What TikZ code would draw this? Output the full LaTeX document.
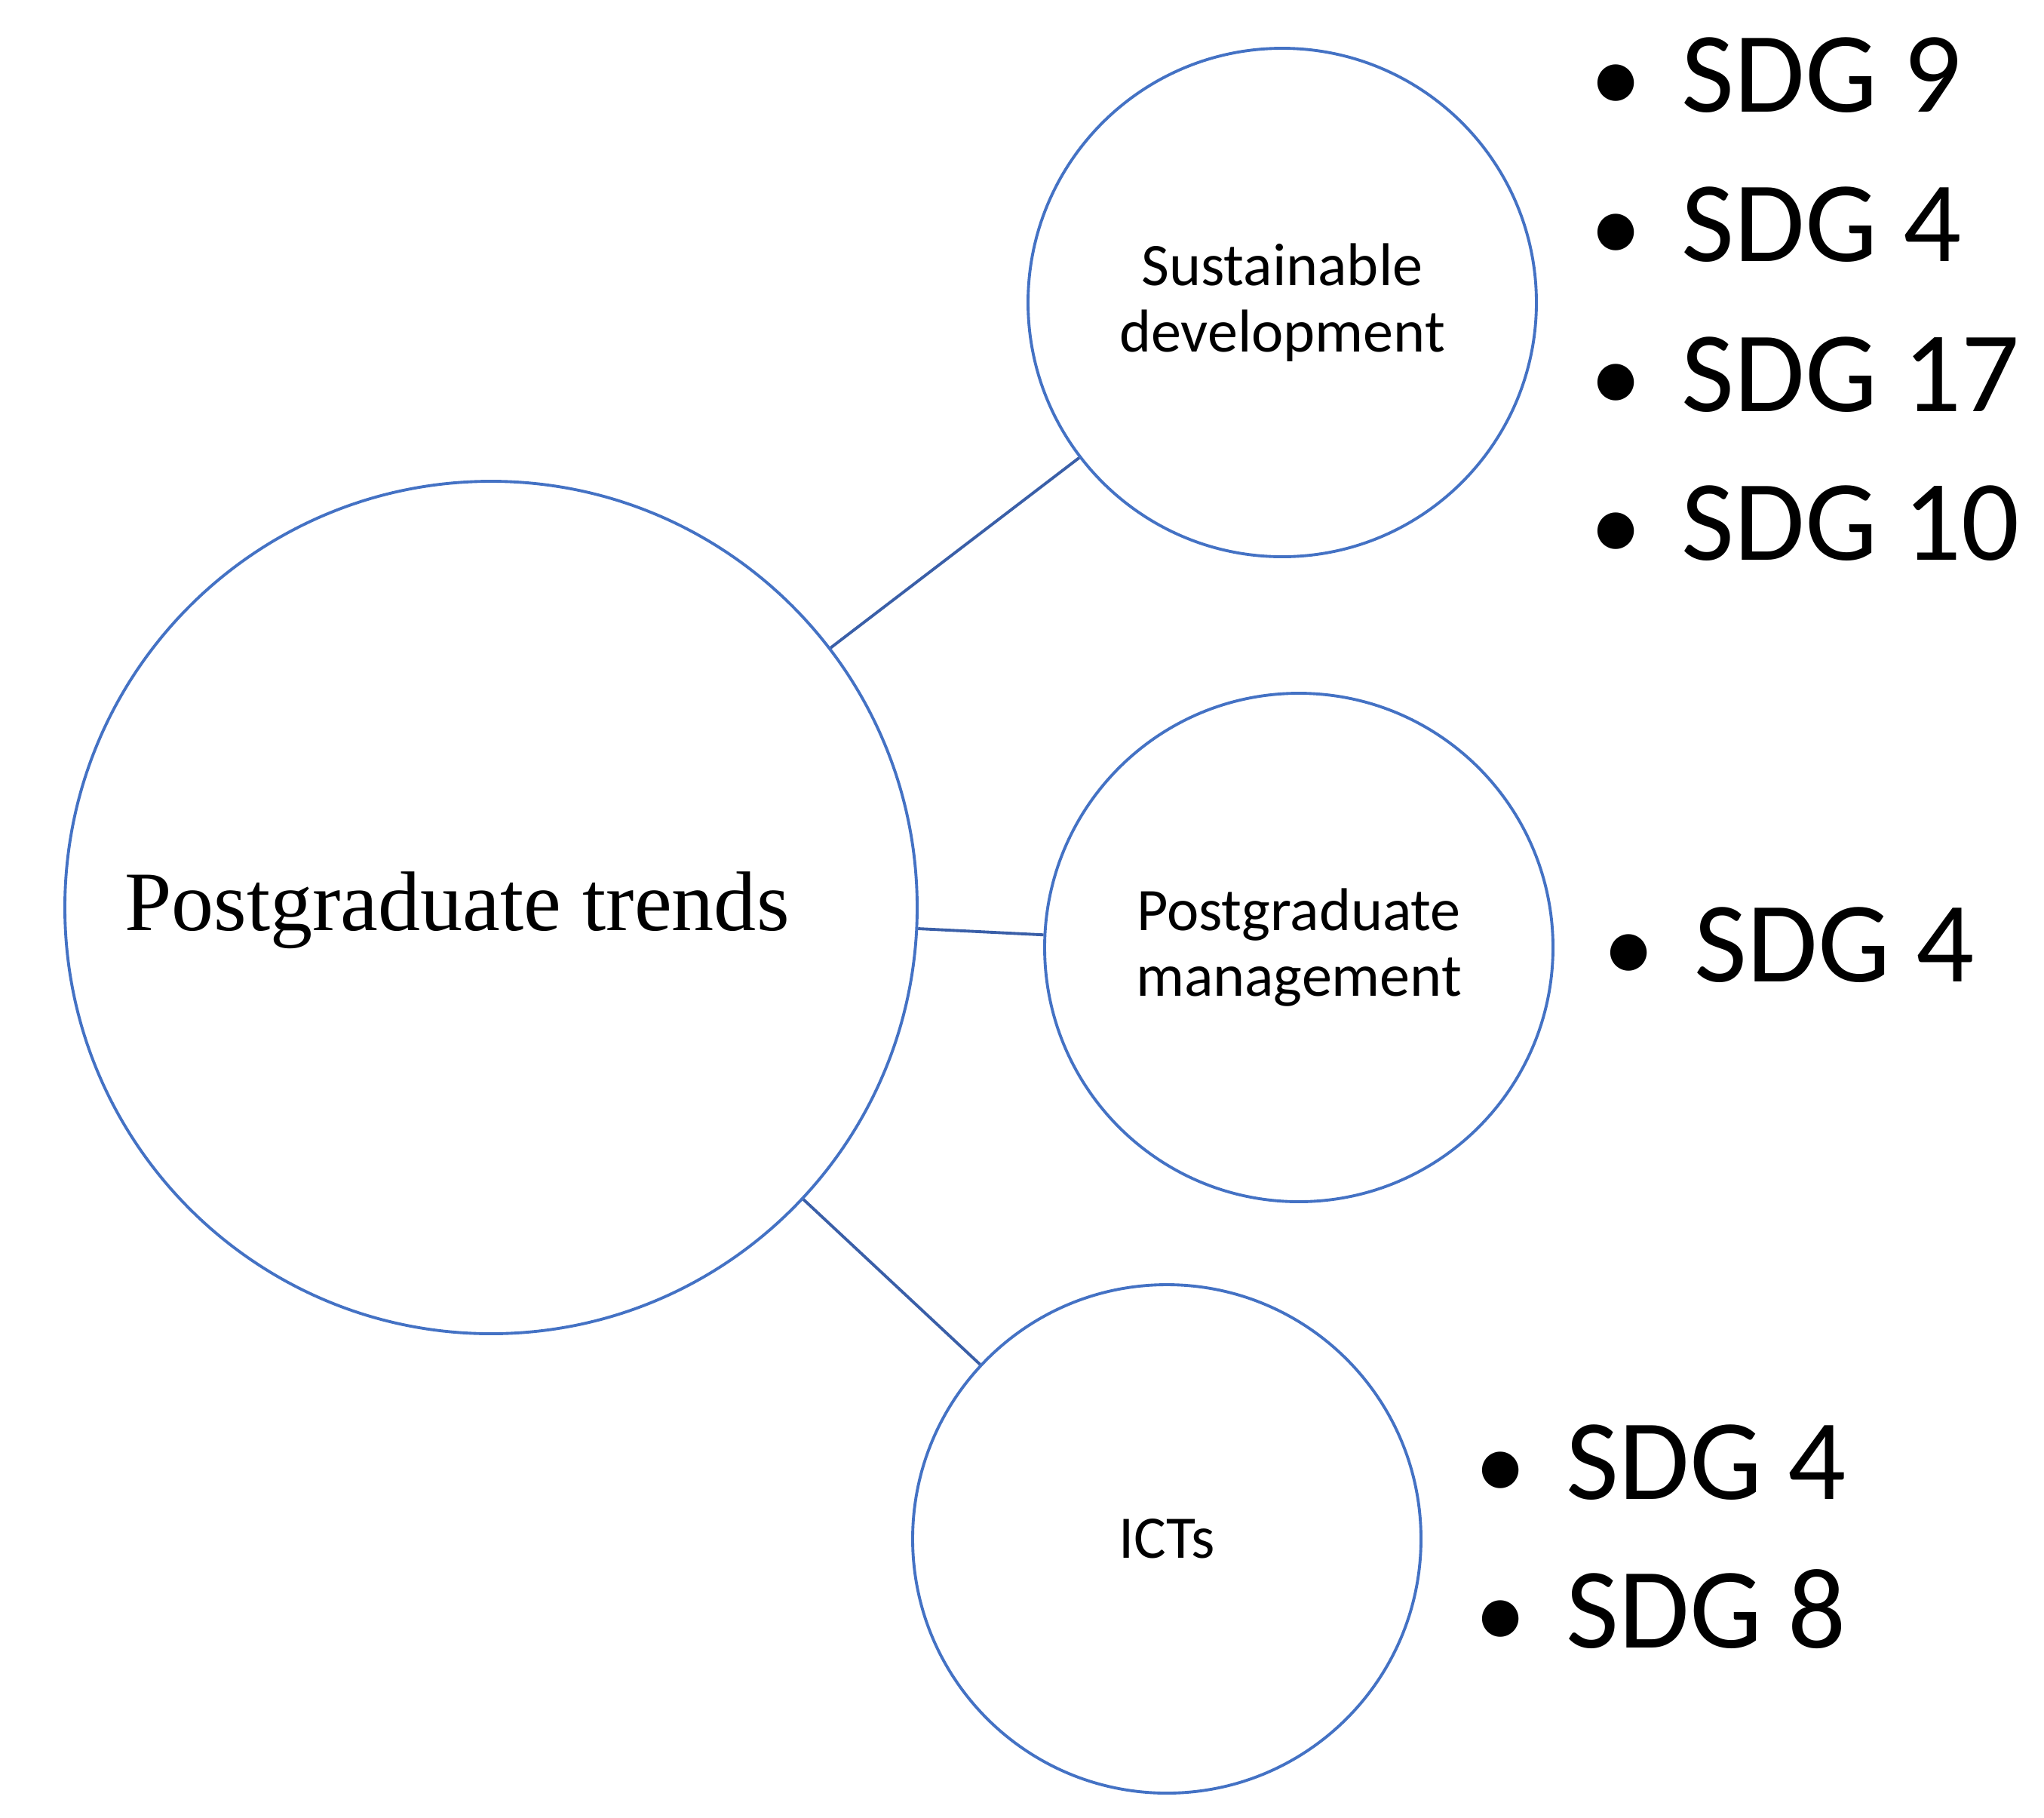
\documentclass[tikz,border=0pt]{standalone}
\usepackage{fontspec}
\setmainfont{Carlito}
\newfontfamily\trendfont{Liberation Serif}
\usepackage{tikz}
\definecolor{bubbleblue}{HTML}{4472C4}
\definecolor{linkblue}{HTML}{3A5FA8}
\newcommand{\sdgitem}{\makebox[1.21cm][l]{\scalebox{0.9}{\textbullet}}}
\tikzset{
    bubble/.style={circle,draw=bubbleblue,line width=1.1pt,inner sep=0pt,
        minimum size=6.74cm,align=center,
        font=\fontsize{22.8}{25}\selectfont},
    link/.style={draw=linkblue,line width=1.1pt},
    sdg/.style={anchor=base west,inner sep=0pt,
        font=\fontsize{43.3}{52}\selectfont}
}

\begin{document}
\begin{tikzpicture}
    \useasboundingbox (0,0) rectangle (27.10,-24.09);
    % Circles
    \node[bubble,minimum size=11.30cm] (trends) at (6.51,-12.03) {};
    \node[anchor=base,inner sep=0pt,font=\trendfont\fontsize{31.9}{38}\selectfont]
        (trendslabel) at (6.06,-12.33) {Postgraduate trends};
    \node[bubble] (sust) at (17.00,-4.01) {Sustainable\\development};
    \node[bubble] (mgmt) at (17.22,-12.56) {Postgraduate\\management};
    \node[bubble] (icts) at (15.47,-20.40) {ICTs};
    % Links
    \draw[link] (trends) -- (sust);
    \draw[link] (trends) -- (mgmt);
    \draw[link] (trends) -- (icts);
    % SDG lists
    \node[sdg] (sd9)  at (21.08,-1.48) {\sdgitem SDG 9};
    \node[sdg] (sd4)  at (21.08,-3.46) {\sdgitem SDG 4};
    \node[sdg] (sd17) at (21.08,-5.45) {\sdgitem SDG 17};
    \node[sdg] (sd10) at (21.08,-7.42) {\sdgitem SDG 10};
    \node[sdg] (pm4)  at (21.25,-13.01) {\sdgitem SDG 4};
    \node[sdg] (ict4) at (19.55,-19.87) {\sdgitem SDG 4};
    \node[sdg] (ict8) at (19.55,-21.84) {\sdgitem SDG 8};
\end{tikzpicture}
\end{document}
